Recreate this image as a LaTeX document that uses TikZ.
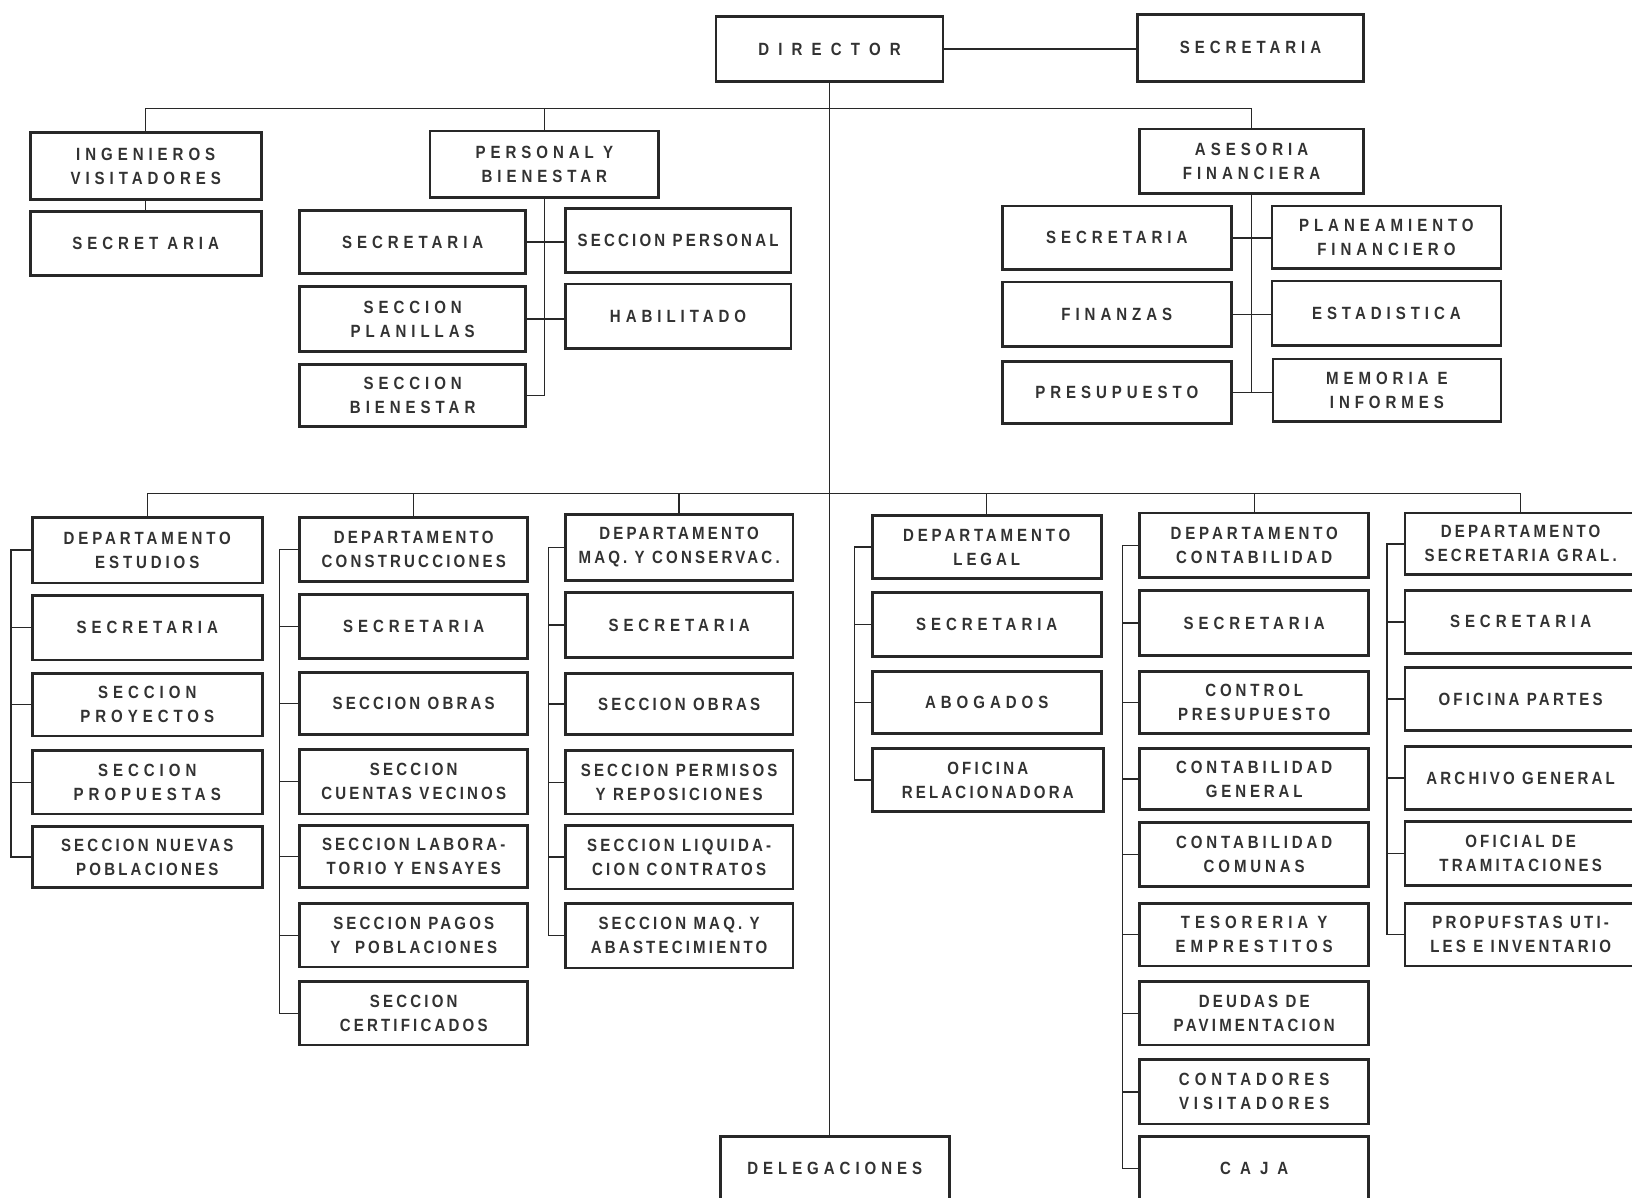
\documentclass[tikz,border=0pt]{standalone}
\usepackage{fontspec}
\setmainfont{Liberation Sans}
\newfontfamily\lblfont[LetterSpace=28,FakeStretch=0.85]{Liberation Sans}
\newfontfamily\lblmid[LetterSpace=22,FakeStretch=0.85]{Liberation Sans}
\newfontfamily\lbltight[LetterSpace=18,FakeStretch=0.85]{Liberation Sans}
\definecolor{ink}{RGB}{40,40,40}
\definecolor{txt}{RGB}{50,50,50}
\tikzset{
  orgbox/.style={draw=ink, line width=2.6pt, fill=white, inner sep=0pt, align=center, text=txt, font=\lblfont\bfseries\fontsize{17}{23}\selectfont},
  midlbl/.style={font=\lblmid\bfseries\fontsize{17}{23}\selectfont},
  tightlbl/.style={font=\lbltight\bfseries\fontsize{17}{23}\selectfont},
  link/.style={draw=ink, line width=1.3pt},
}
\newcommand\orgnode[7][]{\node[orgbox,#1,minimum width={(#4-#3)*1pt},minimum height={(#6-#5)*1pt}] (#2) at ({(#3+#4)/2},{-(#5+#6)/2}) {#7};}
\begin{document}
\begin{tikzpicture}[x=1pt,y=1pt]
\clip (0,0) rectangle (1568,-1151);
\fill[white] (0,0) rectangle (1568,-1151);
% ---- top level
\orgnode{dir}{688}{906}{16}{78}{D I R E C T O R}
\orgnode{sec}{1093}{1310}{14}{78}{SECRETARIA}
\orgnode{ing}{29}{251}{127}{192}{INGENIEROS\\VISITADORES}
\orgnode{isec}{29}{251}{203}{265}{SECRET ARIA}
\orgnode{pyb}{413}{633}{126}{190}{PERSONAL Y\\BIENESTAR}
\orgnode{psec}{288}{505}{202}{263}{SECRETARIA}
\orgnode[tightlbl]{pper}{543}{760}{200}{262}{SECCION PERSONAL}
\orgnode{pplan}{288}{505}{275}{338}{SECCION\\PLANILLAS}
\orgnode{phab}{543}{760}{273}{335}{HABILITADO}
\orgnode{pbien}{288}{505}{350}{410}{SECCION\\BIENESTAR}
\orgnode{af}{1095}{1310}{124}{186}{ASESORIA\\FINANCIERA}
\orgnode{fsec}{963}{1183}{198}{259}{SECRETARIA}
\orgnode{fplan}{1222}{1442}{198}{258}{PLANEAMIENTO\\FINANCIERO}
\orgnode{ffin}{963}{1183}{271}{333}{FINANZAS}
\orgnode{fest}{1222}{1442}{270}{332}{ESTADISTICA}
\orgnode{fpres}{963}{1183}{347}{407}{PRESUPUESTO}
\orgnode{fmem}{1223}{1442}{345}{405}{MEMORIA E\\INFORMES}
\orgnode{deleg}{692}{912}{1092}{1153}{DELEGACIONES}
% ---- column 1
\orgnode[midlbl]{a1}{31}{252}{497}{560}{DEPARTAMENTO\\ESTUDIOS}
\orgnode{a2}{31}{252}{572}{634}{SECRETARIA}
\orgnode{a3}{31}{252}{647}{707}{SECCION\\PROYECTOS}
\orgnode{a4}{31}{252}{721}{782}{SECCION\\PROPUESTAS}
\orgnode[tightlbl]{a5}{31}{252}{794}{853}{SECCION NUEVAS\\POBLACIONES}
% ---- column 2
\orgnode[tightlbl]{b1}{288}{507}{497}{559}{DEPARTAMENTO\\CONSTRUCCIONES}
\orgnode{b2}{288}{507}{571}{633}{SECRETARIA}
\orgnode[tightlbl]{b3}{288}{507}{646}{706}{SECCION OBRAS}
\orgnode[tightlbl]{b4}{288}{507}{720}{782}{SECCION\\CUENTAS VECINOS}
\orgnode[tightlbl]{b5}{288}{507}{793}{853}{SECCION LABORA-\\TORIO Y ENSAYES}
\orgnode[tightlbl]{b6}{288}{507}{868}{929}{SECCION PAGOS\\Y\ \ POBLACIONES}
\orgnode[tightlbl]{b7}{288}{507}{943}{1004}{SECCION\\CERTIFICADOS}
% ---- column 3
\orgnode[tightlbl]{c1}{543}{762}{494}{558}{DEPARTAMENTO\\MAQ. Y CONSERVAC.}
\orgnode{c2}{543}{762}{569}{632}{SECRETARIA}
\orgnode[tightlbl]{c3}{543}{762}{647}{706}{SECCION OBRAS}
\orgnode[tightlbl]{c4}{543}{762}{721}{782}{SECCION PERMISOS\\Y REPOSICIONES}
\orgnode[tightlbl]{c5}{543}{762}{793}{854}{SECCION LIQUIDA-\\CION CONTRATOS}
\orgnode[tightlbl]{c6}{543}{762}{868}{930}{SECCION MAQ. Y\\ABASTECIMIENTO}
% ---- column 4
\orgnode[midlbl]{d1}{838}{1058}{495}{556}{DEPARTAMENTO\\LEGAL}
\orgnode{d2}{838}{1058}{569}{631}{SECRETARIA}
\orgnode{d3}{838}{1058}{645}{705}{ABOGADOS}
\orgnode[tightlbl]{d4}{838}{1060}{719}{780}{OFICINA\\RELACIONADORA}
% ---- column 5
\orgnode[midlbl]{e1}{1095}{1315}{493}{555}{DEPARTAMENTO\\CONTABILIDAD}
\orgnode{e2}{1095}{1315}{567}{630}{SECRETARIA}
\orgnode[midlbl]{e3}{1095}{1315}{645}{705}{CONTROL\\PRESUPUESTO}
\orgnode[midlbl]{e4}{1095}{1315}{719}{778}{CONTABILIDAD\\GENERAL}
\orgnode[midlbl]{e5}{1095}{1315}{790}{852}{CONTABILIDAD\\COMUNAS}
\orgnode{e6}{1095}{1315}{868}{928}{TESORERIA Y\\EMPRESTITOS}
\orgnode[tightlbl]{e7}{1095}{1315}{943}{1004}{DEUDAS DE\\PAVIMENTACION}
\orgnode{e8}{1095}{1315}{1018}{1080}{CONTADORES\\VISITADORES}
\orgnode{e9}{1095}{1315}{1092}{1153}{C A J A}
% ---- column 6
\orgnode[tightlbl]{f1}{1350}{1572}{493}{552}{DEPARTAMENTO\\SECRETARIA GRAL.}
\orgnode{f2}{1350}{1572}{567}{628}{SECRETARIA}
\orgnode[tightlbl]{f3}{1350}{1572}{641}{702}{OFICINA PARTES}
\orgnode[tightlbl]{f4}{1350}{1572}{717}{778}{ARCHIVO GENERAL}
\orgnode[tightlbl]{f5}{1350}{1572}{789}{851}{OFICIAL DE\\TRAMITACIONES}
\orgnode[tightlbl]{f6}{1350}{1572}{868}{928}{PROPUFSTAS UTI-\\LES E INVENTARIO}
% ---- connectors
\coordinate (busA) at (797,-104);
\coordinate (busB) at (797,-474);
\draw[link] (dir.east) -- (dir.east -| sec.west);
\draw[link] (dir.south) -- (dir.south |- deleg.north);
\draw[link] (ing.north) |- (busA) -| (af.north);
\draw[link] (pyb.north) -- (pyb.north |- busA);
\draw[link] (ing.south) -- (ing.south |- isec.north);
\draw[link] (pyb.south) |- (pbien.east);
\draw[link] (psec.east) -- (psec.east -| pper.west);
\draw[link] (pplan.east) -- (pplan.east -| phab.west);
\draw[link] (af.south) |- (fpres.east);
\draw[link] (fsec.east) -- (fsec.east -| fplan.west);
\draw[link] (ffin.east) -- (ffin.east -| fest.west);
\draw[link] (fpres.east) -- (fpres.east -| fmem.west);
\draw[link] (a1.north) |- (busB) -| (f1.north);
\foreach \n in {b1,c1,d1,e1} \draw[link] (\n.north) -- (\n.north |- busB);
% brackets
\draw[link] (a1.west) -- ++(-19,0) |- (a5.west);
\foreach \n in {a2,a3,a4} \draw[link] (\n.west) -- ++(-19,0);
\draw[link] (b1.west) -- ++(-18,0) |- (b7.west);
\foreach \n in {b2,b3,b4,b5,b6} \draw[link] (\n.west) -- ++(-18,0);
\draw[link] (c1.west) -- ++(-15,0) |- (c6.west);
\foreach \n in {c2,c3,c4,c5} \draw[link] (\n.west) -- ++(-15,0);
\draw[link] (d1.west) -- ++(-16,0) |- (d4.west);
\foreach \n in {d2,d3} \draw[link] (\n.west) -- ++(-16,0);
\draw[link] (e1.west) -- ++(-15,0) |- (e9.west);
\foreach \n in {e2,e3,e4,e5,e6,e7,e8} \draw[link] (\n.west) -- ++(-15,0);
\draw[link] (f1.west) -- ++(-16,0) |- (f6.west);
\foreach \n in {f2,f3,f4,f5} \draw[link] (\n.west) -- ++(-16,0);
\end{tikzpicture}
\end{document}
